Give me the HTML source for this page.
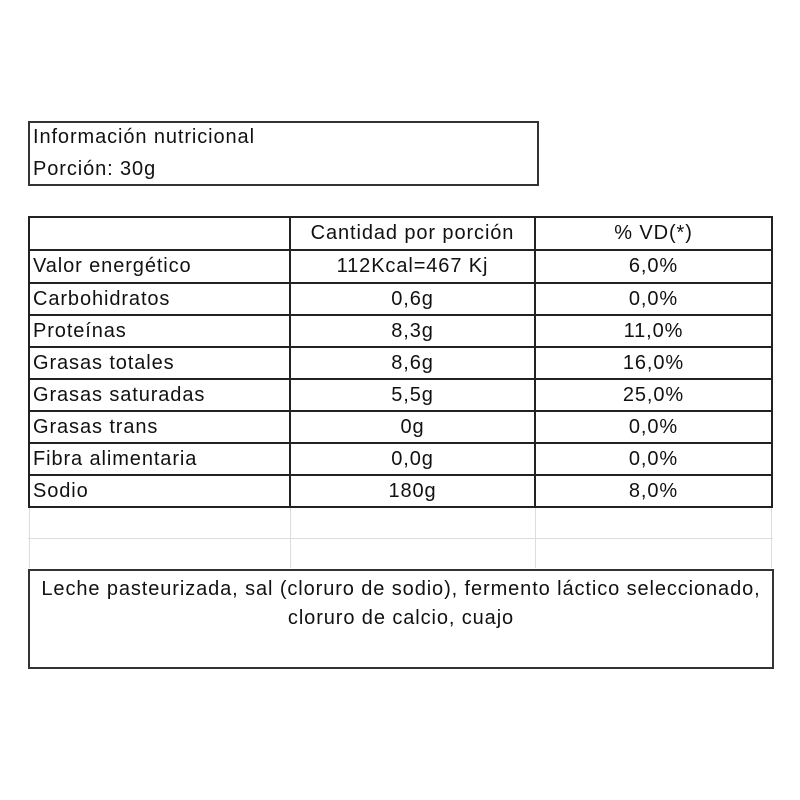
<!DOCTYPE html>
<html><head><meta charset="utf-8"><style>
body{margin:0;width:800px;height:800px;background:#fff;position:relative;font-family:"Liberation Sans","DejaVu Sans",sans-serif;color:#111;font-size:20px;letter-spacing:0.9px;}
.a{position:absolute;}
.hl{position:absolute;height:2px;background:#222;}
.vl{position:absolute;width:2px;background:#222;}
.t{position:absolute;line-height:32px;white-space:nowrap;}
.c{text-align:center;}
</style></head><body>
<div class="a" style="left:28px;top:121px;width:507px;height:61px;border:2px solid #333;"></div>
<div class="t" style="left:33px;top:121px;">Información nutricional</div>
<div class="t" style="left:33px;top:153px;">Porción: 30g</div>

<div class="hl" style="left:28px;top:216px;width:745px;"></div>
<div class="hl" style="left:28px;top:249px;width:745px;"></div>
<div class="hl" style="left:28px;top:282px;width:745px;"></div>
<div class="hl" style="left:28px;top:314px;width:745px;"></div>
<div class="hl" style="left:28px;top:346px;width:745px;"></div>
<div class="hl" style="left:28px;top:378px;width:745px;"></div>
<div class="hl" style="left:28px;top:410px;width:745px;"></div>
<div class="hl" style="left:28px;top:442px;width:745px;"></div>
<div class="hl" style="left:28px;top:474px;width:745px;"></div>
<div class="hl" style="left:28px;top:506px;width:745px;"></div>
<div class="vl" style="left:28px;top:216px;height:292px;"></div>
<div class="vl" style="left:289px;top:216px;height:292px;"></div>
<div class="vl" style="left:534px;top:216px;height:292px;"></div>
<div class="vl" style="left:771px;top:216px;height:292px;"></div>
<div class="a" style="left:28px;top:538px;width:745px;height:1px;background:#ddd;"></div>
<div class="a" style="left:29px;top:508px;width:1px;height:60px;background:#ddd;"></div>
<div class="a" style="left:290px;top:508px;width:1px;height:60px;background:#ddd;"></div>
<div class="a" style="left:535px;top:508px;width:1px;height:60px;background:#ddd;"></div>
<div class="a" style="left:771px;top:508px;width:1px;height:60px;background:#ddd;"></div>

<div class="t c" style="left:290px;width:245px;top:217px;">Cantidad por porción</div>
<div class="t c" style="left:535px;width:237px;top:217px;">% VD(*)</div>

<div class="t" style="left:33px;top:250px;">Valor energético</div>
<div class="t c" style="left:290px;width:245px;top:250px;">112Kcal=467 Kj</div>
<div class="t c" style="left:535px;width:237px;top:250px;">6,0%</div>

<div class="t" style="left:33px;top:283px;">Carbohidratos</div>
<div class="t c" style="left:290px;width:245px;top:283px;">0,6g</div>
<div class="t c" style="left:535px;width:237px;top:283px;">0,0%</div>

<div class="t" style="left:33px;top:315px;">Proteínas</div>
<div class="t c" style="left:290px;width:245px;top:315px;">8,3g</div>
<div class="t c" style="left:535px;width:237px;top:315px;">11,0%</div>

<div class="t" style="left:33px;top:347px;">Grasas totales</div>
<div class="t c" style="left:290px;width:245px;top:347px;">8,6g</div>
<div class="t c" style="left:535px;width:237px;top:347px;">16,0%</div>

<div class="t" style="left:33px;top:379px;">Grasas saturadas</div>
<div class="t c" style="left:290px;width:245px;top:379px;">5,5g</div>
<div class="t c" style="left:535px;width:237px;top:379px;">25,0%</div>

<div class="t" style="left:33px;top:411px;">Grasas trans</div>
<div class="t c" style="left:290px;width:245px;top:411px;">0g</div>
<div class="t c" style="left:535px;width:237px;top:411px;">0,0%</div>

<div class="t" style="left:33px;top:443px;">Fibra alimentaria</div>
<div class="t c" style="left:290px;width:245px;top:443px;">0,0g</div>
<div class="t c" style="left:535px;width:237px;top:443px;">0,0%</div>

<div class="t" style="left:33px;top:475px;">Sodio</div>
<div class="t c" style="left:290px;width:245px;top:475px;">180g</div>
<div class="t c" style="left:535px;width:237px;top:475px;">8,0%</div>

<div class="a" style="left:28px;top:569px;width:742px;height:96px;border:2px solid #333;"></div>
<div class="t c" style="left:28px;width:746px;top:573px;">Leche pasteurizada, sal (cloruro de sodio), fermento láctico seleccionado,</div>
<div class="t c" style="left:28px;width:746px;top:602px;">cloruro de calcio, cuajo</div>
</body></html>
